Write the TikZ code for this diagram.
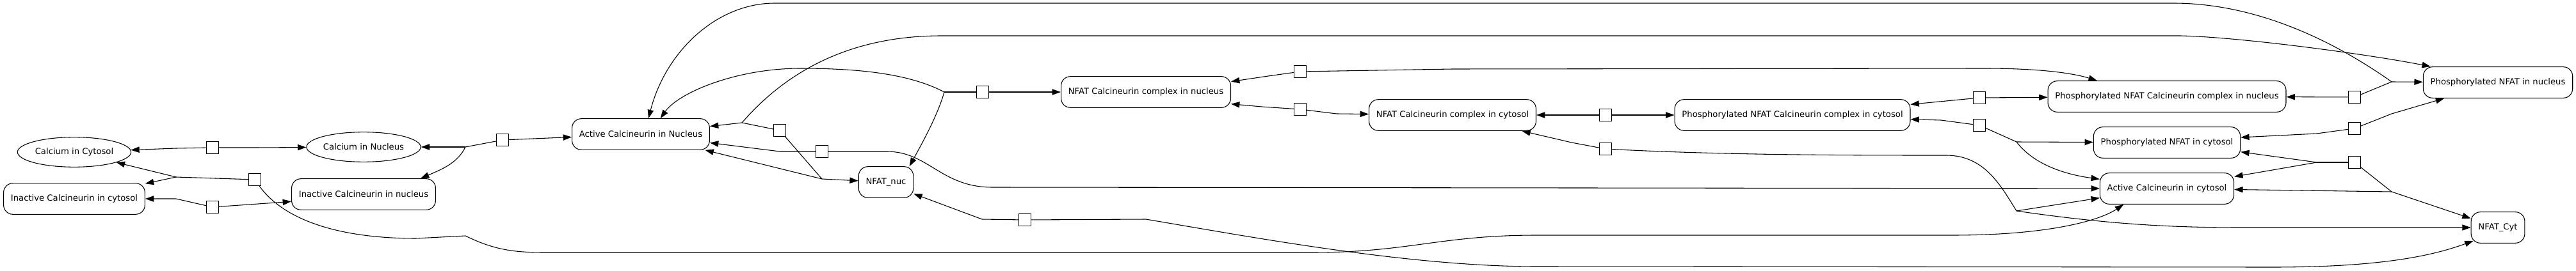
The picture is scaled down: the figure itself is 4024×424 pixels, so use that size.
\documentclass[tikz,border=0pt]{standalone}
\usepackage{fontspec}
\setmainfont{DejaVu Sans}
\usetikzlibrary{arrows.meta,shapes.geometric}
\begin{document}
\begin{tikzpicture}[x=0.75pt,y=-0.75pt,line width=0.8pt,
every node/.style={font=\fontsize{9.9}{12}\selectfont},
pool/.style={draw,ellipse,minimum width=133pt,minimum height=35pt,inner sep=0pt},
species/.style={draw,rounded corners=11pt,minimum height=36.5pt,inner xsep=8.5pt},
rxn/.style={draw,fill=white,minimum size=14pt,inner sep=0pt},
arr/.style={-{Triangle[length=10pt,width=7pt]}}]
\useasboundingbox (0,0) rectangle (4024,424);
\node[pool] (cacyt) at (116,238) {Calcium in Cytosol};
\node[pool] (canuc) at (568,230) {Calcium in Nucleus};
\node[species] (icancyt) at (116,311) {Inactive Calcineurin in cytosol};
\node[species] (icannuc) at (568,304) {Inactive Calcineurin in nucleus};
\node[species] (acannuc) at (1001,210) {Active Calcineurin in Nucleus};
\node[species] (nfatnuc) at (1384,285) {NFAT\_nuc};
\node[species] (ncnuc) at (1790,144) {NFAT Calcineurin complex in nucleus};
\node[species] (nccyt) at (2269,180) {NFAT Calcineurin complex in cytosol};
\node[species] (pnccyt) at (2800,180) {Phosphorylated NFAT Calcineurin complex in cytosol};
\node[species] (pncnuc) at (3385,151) {Phosphorylated NFAT Calcineurin complex in nucleus};
\node[species] (pnfatnuc) at (3902,129) {Phosphorylated NFAT in nucleus};
\node[species] (pnfatcyt) at (3385,223) {Phosphorylated NFAT in cytosol};
\node[species] (acancyt) at (3385,295) {Active Calcineurin in cytosol};
\node[species] (nfatcyt) at (3902,356) {NFAT\_Cyt};
\node[rxn] (r1) at (332,231) {};
\node[rxn] (r2) at (398,281) {};
\node[rxn] (r3) at (332,324) {};
\node[rxn] (r4) at (785,219) {};
\node[rxn] (r5) at (1218,204) {};
\node[rxn] (r6) at (1284,237) {};
\node[rxn] (r7) at (1535,144) {};
\node[rxn] (r8) at (2031,112) {};
\node[rxn] (r9) at (2031,171) {};
\node[rxn] (r10) at (1601,344) {};
\node[rxn] (r11) at (2508,180) {};
\node[rxn] (r12) at (2508,233) {};
\node[rxn] (r13) at (3092,153) {};
\node[rxn] (r14) at (3092,196) {};
\node[rxn] (r15) at (3678,152) {};
\node[rxn] (r16) at (3678,201) {};
\node[rxn] (r17) at (3678,254) {};
\coordinate (j2) at (275,277);
\coordinate (j4) at (727,230);
\coordinate (j5a) at (1159,192);
\coordinate (j5b) at (1284,280);
\coordinate (j7) at (1475,144);
\coordinate (j12) at (3150,330);
\coordinate (j14) at (3150,222);
\coordinate (j15) at (3736,128);
\coordinate (j17a) at (3619,254);
\coordinate (j17b) at (3736,300);
\draw[arr] (r1) -- (275,232) -- (cacyt);
\draw[arr] (r1) -- (399,231) -- (canuc);
\draw (r2) -- (j2);
\draw[arr] (j2) -- (cacyt);
\draw[arr] (j2) -- (icancyt);
\draw[arr] (r2) .. controls (440,340) and (520,373) .. (650,373) -- (727,369) .. controls (770,390) and (800,395) .. (850,395) -- (2050,395) .. controls (2200,395) and (2250,368) .. (2400,368) -- (3050,368) .. controls (3200,368) and (3280,345) .. ([xshift=28pt]acancyt.south west);
\draw[arr] (r3) -- (275,311) -- (icancyt);
\draw[arr] (r3) -- (446,316) -- (icannuc);
\draw (r4) -- (j4);
\draw[arr] (j4) -- (canuc);
\draw[arr] (j4) .. controls (715,255) and (690,265) .. ([xshift=-18pt]icannuc.north east);
\draw[arr] (r4) -- (acannuc);
\draw (r5) -- (j5a);
\draw[arr] (j5a) -- (acannuc);
\draw[arr] (j5a) .. controls (1230,110) and (1330,56) .. (1471,56) -- (3406,56) .. controls (3500,58) and (3700,85) .. ([xshift=9pt]pnfatnuc.north west);
\draw (r5) -- (j5b);
\draw[arr] (j5b) -- (acannuc);
\draw[arr] (j5b) -- (nfatnuc);
\draw[arr] (r6) -- (1218,237) -- (acannuc);
\draw[arr] (r6) -- (1385,237) .. controls (1450,237) and (1470,293) .. (1550,293) -- (acancyt);
\draw (r7) -- (j7);
\draw[arr] (r7) -- (ncnuc);
\draw[arr] (j7) .. controls (1465,180) and (1440,225) .. ([xshift=-5pt]nfatnuc.north east);
\draw[arr] (j7) .. controls (1420,115) and (1340,107) .. (1250,107) .. controls (1150,107) and (1060,145) .. ([xshift=23pt]acannuc.north);
\draw[arr] (r8) -- (1974,120) -- (ncnuc.7);
\draw[arr] (r8) -- (2269,108) -- (3100,107) .. controls (3190,107) and (3240,115) .. ([xshift=58pt]pncnuc.north west);
\draw[arr] (r9) -- (1971,167) -- (ncnuc.-8);
\draw[arr] (r9) -- (2088,178) -- (nccyt);
\draw[arr] (r10) -- (1534,343) -- ([yshift=5pt]nfatnuc.south east);
\draw[arr] (r10) -- (1790,343) .. controls (1950,370) and (2200,417) .. (2400,417) -- (3550,418) .. controls (3720,418) and (3800,400) .. ([shift={(3pt,3pt)}]nfatcyt.south west);
\draw[arr] (r11) -- (nccyt);
\draw[arr] (r11) -- (pnccyt);
\draw[arr] (r12) -- (2455,223) -- ([xshift=-17pt]nccyt.south east);
\draw (r12) .. controls (2700,243) and (2900,243) .. (3040,243) .. controls (3100,243) and (3125,290) .. (j12);
\draw[arr] (j12) -- ([yshift=-11pt]acancyt.west);
\draw[arr] (j12) .. controls (3300,352) and (3400,356) .. (3500,356) -- (nfatcyt);
\draw[arr] (r13) -- ([yshift=12.5pt]pnccyt.east);
\draw[arr] (r13) -- (pncnuc);
\draw[arr] (r14) -- (3032,188) -- ([yshift=-5pt]pnccyt.east);
\draw (r14) -- (j14);
\draw[arr] (j14) -- (pnfatcyt);
\draw[arr] (j14) .. controls (3175,255) and (3220,272) .. ([yshift=11pt]acancyt.west);
\draw[arr] (r15) -- (pncnuc);
\draw (r15) -- (j15);
\draw[arr] (j15) -- (pnfatnuc);
\draw[arr] (j15) .. controls (3640,60) and (3520,5) .. (3395,5) -- (1210,5) .. controls (1120,5) and (1040,80) .. ([xshift=9pt]acannuc.north);
\draw[arr] (r16) -- (3619,209) -- ([yshift=6pt]pnfatcyt.east);
\draw[arr] (r16) -- (3736,178) -- ([xshift=25pt]pnfatnuc.south west);
\draw (r17) -- (j17a);
\draw[arr] (j17a) -- ([yshift=-11pt]pnfatcyt.east);
\draw[arr] (j17a) -- ([yshift=14pt]acancyt.east);
\draw (r17) -- (j17b);
\draw[arr] (j17b) -- (acancyt);
\draw[arr] (j17b) -- (nfatcyt);
\end{tikzpicture}
\end{document}
